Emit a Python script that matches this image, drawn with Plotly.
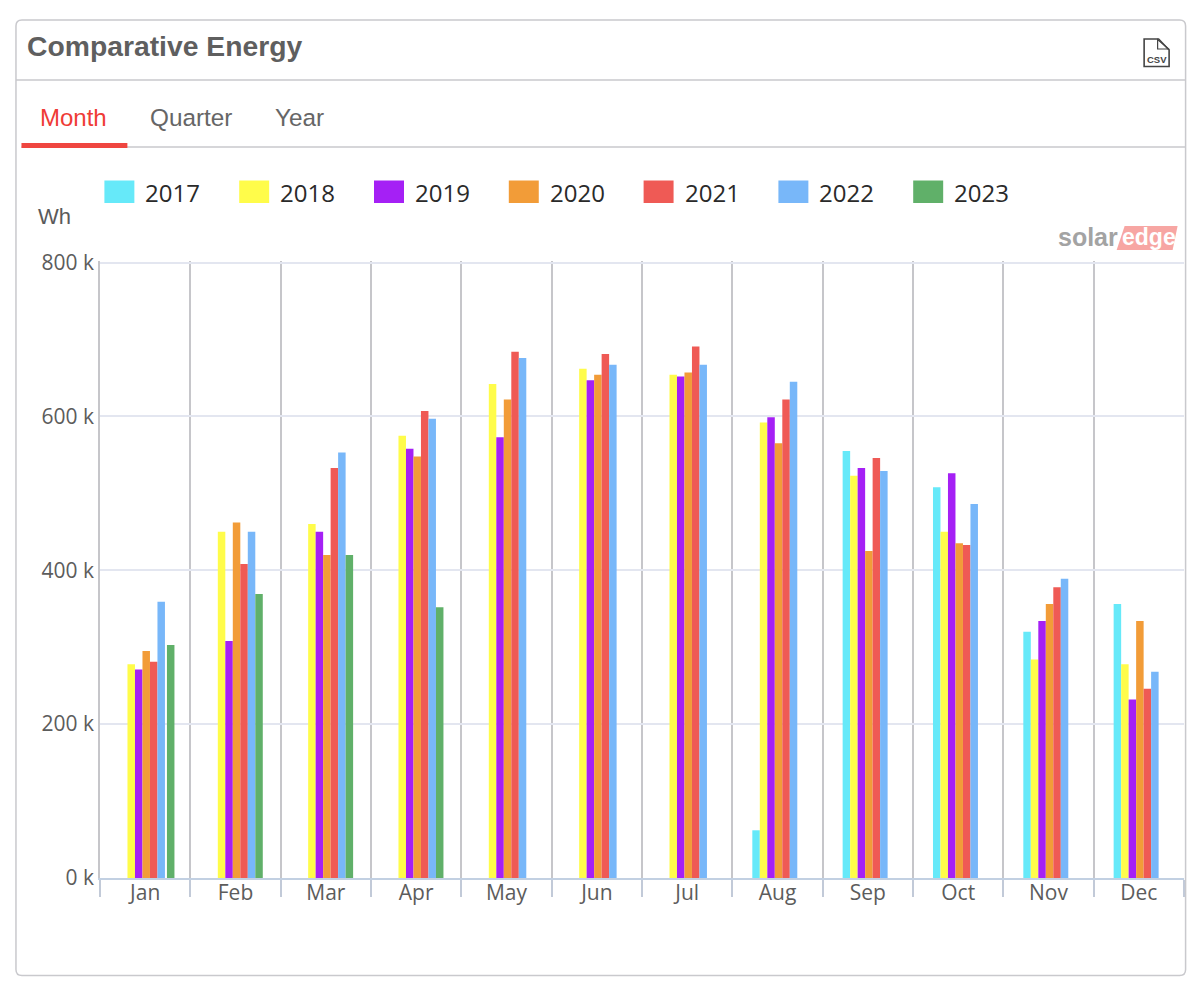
import plotly.graph_objects as go

months = ["Jan","Feb","Mar","Apr","May","Jun","Jul","Aug","Sep","Oct","Nov","Dec"]
years = ["2017","2018","2019","2020","2021","2022","2023"]
colors = ["#66E9F9","#FFFC4A","#A520F5","#F29C38","#EF5A55","#78B7F9","#60B069"]
y_ticks = [0, 200, 400, 600, 800]
y_tick_labels = ["0 k", "200 k", "400 k", "600 k", "800 k"]

# values in thousands of Wh (k)
v2017 = [None,None,None,None,None,None,None,62,555,508,320,356]
v2018 = [278,450,460,575,642,662,654,592,523,450,284,278]
v2019 = [271,308,450,558,573,647,652,599,533,526,334,232]
v2020 = [295,462,420,548,622,654,657,565,425,435,356,334]
v2021 = [281,408,533,607,684,681,691,622,546,433,378,246]
v2022 = [359,450,553,597,676,667,667,645,529,486,389,268]
v2023 = [303,369,420,352,None,None,None,None,None,None,None,None]
series = [v2017,v2018,v2019,v2020,v2021,v2022,v2023]

W, H = 1200, 988
L, R, T, B = 99.6, 1184.4, 261, 878
band = (R - L) / 12
FONT = "Open Sans, sans-serif"
HELV = "Liberation Sans, Arial, sans-serif"

def px(x): return (x - L) / (R - L)
def py(y): return (B - y) / (B - T)

fig = go.Figure()
slot = 7.5 / band
start = 20 / band - 0.5
for i, (yr, vals, c) in enumerate(zip(years, series, colors)):
    off = [start + i * slot] * 12
    if yr == "2023":
        off[0] += 2 / band
    fig.add_bar(x=months, y=vals, name=yr, marker=dict(color=c, line=dict(width=0)),
                width=slot, offset=off, showlegend=False)

shapes = []
annos = []

def line(x0, y0, x1, y1, color, width=1.5):
    shapes.append(dict(type="line", xref="paper", yref="paper", x0=px(x0), y0=py(y0),
                       x1=px(x1), y1=py(y1), line=dict(color=color, width=width), layer="below"))

def rect(x0, y0, x1, y1, color):
    shapes.append(dict(type="rect", xref="paper", yref="paper", x0=px(x0), y0=py(y0),
                       x1=px(x1), y1=py(y1), fillcolor=color, line=dict(width=0), layer="below"))

def poly(pts, fill=None, color=None, width=1.5):
    d = "M" + " L".join(f"{px(a):.5f},{py(b):.5f}" for a, b in pts) + " Z"
    shapes.append(dict(type="path", xref="paper", yref="paper", path=d,
                       fillcolor=fill if fill else "rgba(0,0,0,0)",
                       line=dict(color=color if color else "rgba(0,0,0,0)", width=width if color else 0),
                       layer="below"))

def text(t, x, y, size, color, font=HELV, anchor="left", bold=False):
    annos.append(dict(text=f"<b>{t}</b>" if bold else t, xref="paper", yref="paper", x=px(x), y=py(y),
                      xanchor=anchor, yanchor="middle", showarrow=False,
                      font=dict(family=font, size=size, color=color), borderpad=0, borderwidth=0))

# Card
BORDER = "#C9C9CD"
x0, x1, y0, y1, r = 15.5, 1186, 20, 975.5, 6
d = (f"M{px(x0+r):.5f},{py(y0):.5f} L{px(x1-r):.5f},{py(y0):.5f} Q{px(x1):.5f},{py(y0):.5f} {px(x1):.5f},{py(y0+r):.5f} "
     f"L{px(x1):.5f},{py(y1-r):.5f} Q{px(x1):.5f},{py(y1):.5f} {px(x1-r):.5f},{py(y1):.5f} "
     f"L{px(x0+r):.5f},{py(y1):.5f} Q{px(x0):.5f},{py(y1):.5f} {px(x0):.5f},{py(y1-r):.5f} "
     f"L{px(x0):.5f},{py(y0+r):.5f} Q{px(x0):.5f},{py(y0):.5f} {px(x0+r):.5f},{py(y0):.5f} Z")
shapes.append(dict(type="path", xref="paper", yref="paper", path=d, line=dict(color=BORDER, width=1.5), layer="below"))
line(15.5, 80, 1186, 80, BORDER)
line(21, 147, 1186, 147, BORDER)
rect(21, 143, 127, 148, "#EF4640")

text("Comparative Energy", 27, 46, 28.3, "#5F5F5F", bold=True)
text("Month", 40, 117.5, 24, "#EF3B36")
text("Quarter", 150, 117.5, 24.3, "#666666")
text("Year", 275, 117.5, 24.3, "#666666")
text("Wh", 38, 216, 22, "#5A5A5A")

# CSV icon
poly([(1144.5, 39), (1159, 39), (1169.5, 50), (1169.5, 66.5), (1144.5, 66.5)], color="#444444", width=1.6)
poly([(1158, 39.5), (1158, 49), (1169, 49)], color="#444444", width=1.2)
text("CSV", 1157, 59, 9.5, "#444444", anchor="center", bold=True)

# Legend
for i, (yr, c) in enumerate(zip(years, colors)):
    sx = 104 + i * 134.9
    rect(sx, 180.5, sx + 30, 203, c)
    text(yr, sx + 41, 192, 24, "#2A2A2A", font=FONT)

# Logo
text("solar", 1058, 237, 25, "#A3A3A3", bold=True)
poly([(1125, 226), (1178, 226), (1173, 250), (1117, 250)], fill="#F7A6A3")
text("edge", 1122, 237, 23, "#FFFFFF", bold=True)

fig.update_layout(
    width=W, height=H, margin=dict(l=L, r=W - R, t=T, b=H - B),
    paper_bgcolor="white", plot_bgcolor="white",
    barmode="overlay", shapes=shapes, annotations=annos, showlegend=False,
    xaxis=dict(type="category", categoryorder="array", categoryarray=months, range=[-0.5, 11.5],
               tickson="boundaries", ticks="outside", ticklen=17, tickwidth=1.5, tickcolor="#C2CAD8",
               showgrid=True, gridcolor="#C6C6CA", gridwidth=1.5,
               showline=True, linecolor="#C2D0E2", linewidth=1.5,
               ticklabelstandoff=-5,
               tickfont=dict(family=FONT, size=21, color="#5C5C5C"), zeroline=False),
    yaxis=dict(range=[0, 802], tickvals=y_ticks, ticktext=y_tick_labels,
               showgrid=True, gridcolor="#E3E6F0", gridwidth=1.5, zeroline=False,
               showline=True, linecolor="#C6C6CA", linewidth=1.5, ticks="",
               tickfont=dict(family=FONT, size=21, color="#5C5C5C")),
)

fig.write_html("out.html", config=dict(displayModeBar=False),
               post_script="document.body.style.margin='0';document.body.style.overflow='hidden';")
